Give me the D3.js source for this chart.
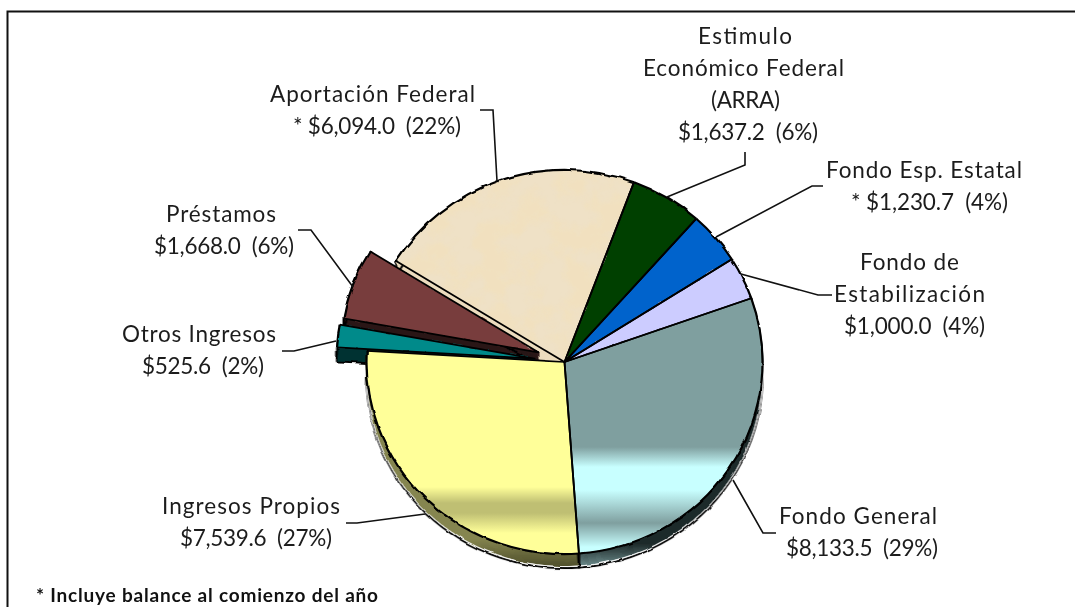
<!DOCTYPE html>
<html>
<head>
<meta charset="utf-8">
<script src="https://d3js.org/d3.v7.min.js"></script>
<style>
  html, body { margin: 0; padding: 0; background: #fff; overflow: hidden; }
  text { font-family: Lato, "Open Sans", sans-serif; fill: #1c1c1c; white-space: pre; }
</style>
</head>
<body>
<svg id="chart" width="1075" height="607"></svg>
<script>
// clockwise from the Fondo General slice
var categories = ['Fondo General', 'Ingresos Propios', 'Otros Ingresos', 'Préstamos',
  'Aportación Federal', 'Estimulo Económico Federal (ARRA)', 'Fondo Esp. Estatal', 'Fondo de Estabilización']
var values = [8133.5, 7539.6, 525.6, 1668.0, 6094.0, 1637.2, 1230.7, 1000.0]
var percents = [29, 27, 2, 6, 22, 6, 4, 4]
var starred = [false, false, false, false, true, false, true, false]
var nameLines = [
  ['Fondo General'],
  ['Ingresos Propios'],
  ['Otros Ingresos'],
  ['Préstamos'],
  ['Aportación Federal'],
  ['Estimulo', 'Económico Federal', '(ARRA)'],
  ['Fondo Esp. Estatal'],
  ['Fondo de', 'Estabilización']
]
var footnote = '* Incluye balance al comienzo del año'

const W = 1075
const H = 607
const cx = 564.5
const cy = 362
const radius = 198
const squash = 0.97
const depth = 14 / squash
const firstAngle = 70.6 * Math.PI / 180

// slice styling, same order as categories
const topFills = ['url(#gGeneral)', 'url(#gPropios)', '#008a8a', '#783c3c', '#efe1c6', '#003f00', '#0563cc', '#ccccff']
const wallFills = ['url(#wGeneral)', 'url(#wPropios)', '#033030', '#2a1414', '#ecdcbe', '#001f00', '#03316a', '#666680']
const explode = [0, 0, 30, 28, 0, 0, 0, 0]
// back to front
const drawOrder = [5, 6, 7, 4, 3, 2, 0, 1]
const gradientSlices = [0, 1]

// [left x, baseline, width] for each text line
const labelBoxes = [
  [[779, 524, 158], [786, 556, 152]],
  [[162, 514, 178], [180, 546, 152]],
  [[122, 342, 154], [142, 374, 122]],
  [[166, 222, 110], [154, 254, 140]],
  [[270, 102, 205], [293, 134, 168]],
  [[698, 44, 94], [643, 76, 201], [711, 108, 69], [678, 140, 140]],
  [[826, 178, 196], [851, 210, 157]],
  [[860, 270, 99], [834, 302, 151], [844, 334, 141]]
]
const leaders = [
  [[776, 533], [763, 533], [733, 480]],
  [[346, 523], [357, 523], [425, 514]],
  [[282, 351], [294, 351], [336, 341]],
  [[298, 230], [311, 230], [353, 287]],
  [[480, 110], [493, 110], [497, 181]],
  [[745, 152], [745, 165], [667, 197]],
  [[823, 186], [812, 186], [716, 237]],
  [[832, 295], [818, 295], [741, 274]]
]

var svg = d3.select('#chart')
var defs = svg.append('defs')

// gradients are given in page y, then mapped into the squashed pie space
var addGradient = function (id, stops) {
  var g = defs.append('linearGradient')
    .attr('id', id)
    .attr('gradientUnits', 'userSpaceOnUse')
    .attr('x1', 0).attr('x2', 0)
    .attr('y1', (0 - cy) / squash)
    .attr('y2', (H - cy) / squash)
  stops.forEach(s => {
    g.append('stop').attr('offset', s[0] / H).attr('stop-color', s[1])
  })
}
addGradient('gGeneral', [[447, '#7f9f9f'], [467, '#c8ffff'], [490, '#c8ffff'], [523, '#7f9f9f'], [547, '#c8ffff']])
addGradient('gPropios', [[487, '#ffff99'], [503, '#bfbf73'], [513, '#bfbf73'], [533, '#ffff99']])
// walls are stacked copies, so these stops sit one depth above the page position
addGradient('wGeneral', [[530, '#1f2c2c'], [553, '#6f8f8f']])
addGradient('wPropios', [[525, '#85854f'], [555, '#4a4a28']])

// filter regions live in the pie's local space, centred on the origin
var setRegion = function (f) {
  return f.attr('filterUnits', 'userSpaceOnUse')
    .attr('x', -cx).attr('y', -cy / squash)
    .attr('width', W).attr('height', H / squash)
}

// wobbly edge of the pie
var rough = setRegion(defs.append('filter').attr('id', 'rough'))
rough.append('feTurbulence')
  .attr('type', 'fractalNoise').attr('baseFrequency', 0.07).attr('numOctaves', 2).attr('seed', 4).attr('result', 'n')
rough.append('feDisplacementMap')
  .attr('in', 'SourceGraphic').attr('in2', 'n').attr('scale', 3.5)
  .attr('xChannelSelector', 'R').attr('yChannelSelector', 'G')

// parchment look of the Aportación slice
var paper = setRegion(defs.append('filter').attr('id', 'paper'))
paper.append('feTurbulence')
  .attr('type', 'fractalNoise').attr('baseFrequency', 0.035).attr('numOctaves', 4).attr('seed', 11).attr('result', 'n')
paper.append('feColorMatrix')
  .attr('in', 'n').attr('type', 'matrix')
  .attr('values', '0 0 0 0 0.88  0 0 0 0 0.75  0 0 0 0 0.52  4 0 0 0 -1.55')
  .attr('result', 'tint')
paper.append('feComposite').attr('in', 'tint').attr('in2', 'SourceAlpha').attr('operator', 'in').attr('result', 'spots')
var merge = paper.append('feMerge')
merge.append('feMergeNode').attr('in', 'SourceGraphic')
merge.append('feMergeNode').attr('in', 'spots')

// frame
svg.append('path')
  .attr('d', 'M7.5,' + H + 'V11.5H' + W)
  .attr('fill', 'none')
  .attr('stroke', '#111')
  .attr('stroke-width', 2)

var pie = d3.pie().sort(null).startAngle(firstAngle).endAngle(firstAngle + 2 * Math.PI)
var slices = pie(values)
var arc = d3.arc().innerRadius(0).outerRadius(radius)
var innerFace = d3.arc().innerRadius(0).outerRadius(radius - 0.5)
var outerEdge = d3.arc().innerRadius(radius).outerRadius(radius)

var shiftOf = function (i) {
  var mid = (slices[i].startAngle + slices[i].endAngle) / 2
  return d3.pointRadial(mid, explode[i])
}
var moved = function (i, dy) {
  var s = shiftOf(i)
  return 'translate(' + s[0] + ',' + (s[1] + (dy || 0)) + ')'
}

var plot = svg.append('g')
  .attr('transform', 'translate(' + cx + ',' + cy + ') scale(1,' + squash + ')')

// extruded side of each slice, stacked copies down to the base
var walls = plot.append('g').attr('filter', 'url(#rough)')
drawOrder.forEach(i => {
  var wall = walls.append('g')
  d3.range(1, Math.ceil(depth)).forEach(dy => {
    wall.append('path')
      .attr('d', arc(slices[i]))
      .attr('transform', moved(i, dy))
      .attr('fill', wallFills[i])
      .attr('stroke', wallFills[i])
      .attr('stroke-width', 1)
  })
  wall.append('path')
    .attr('d', arc(slices[i]))
    .attr('transform', moved(i, depth))
    .attr('fill', wallFills[i])
    .attr('stroke', '#000')
    .attr('stroke-width', 2)
  wall.append('path')
    .attr('d', outerEdge(slices[i]))
    .attr('transform', moved(i, depth - 1.5))
    .attr('fill', 'none')
    .attr('stroke', i < 2 ? '#fff' : 'none')
    .attr('stroke-width', 1)
  // upright edges at both ends of the arc
  ;[slices[i].startAngle, slices[i].endAngle].forEach(a => {
    var p = d3.pointRadial(a, radius)
    wall.append('line')
      .attr('transform', moved(i))
      .attr('x1', p[0]).attr('y1', p[1])
      .attr('x2', p[0]).attr('y2', p[1] + depth)
      .attr('stroke', '#000')
      .attr('stroke-width', 2)
  })
})

var drawRim = function (group, i) {
  group.append('path')
    .attr('d', outerEdge(slices[i]))
    .attr('transform', moved(i))
    .attr('fill', 'none')
    .attr('stroke', '#000')
    .attr('stroke-width', 2.2)
}

// flat top faces with the rough outer rim
var tops = plot.append('g').attr('filter', 'url(#rough)')
drawOrder.filter(i => !gradientSlices.includes(i)).forEach(i => {
  tops.append('path')
    .attr('d', arc(slices[i]))
    .attr('transform', moved(i))
    .attr('fill', topFills[i])
    .attr('filter', i === 4 ? 'url(#paper)' : null)
  drawRim(tops, i)
})

// banded faces stay out of the filter so their gradient is not torn
drawOrder.filter(i => gradientSlices.includes(i)).forEach(i => {
  plot.append('path')
    .attr('d', innerFace(slices[i]))
    .attr('transform', moved(i))
    .attr('fill', topFills[i])
})
var rims = plot.append('g').attr('filter', 'url(#rough)')
gradientSlices.forEach(i => drawRim(rims, i))

// straight radial edges stay crisp
var spokes = plot.append('g')
drawOrder.forEach(i => {
  var a = d3.pointRadial(slices[i].startAngle, radius)
  var b = d3.pointRadial(slices[i].endAngle, radius)
  spokes.append('path')
    .attr('d', 'M' + a + 'L0,0L' + b)
    .attr('transform', moved(i))
    .attr('fill', 'none')
    .attr('stroke', '#000')
    .attr('stroke-width', 1.8)
    .attr('stroke-linejoin', 'round')
})

// leader lines
svg.append('g').selectAll('path')
  .data(leaders)
  .join('path')
  .attr('d', d3.line())
  .attr('fill', 'none')
  .attr('stroke', '#111')
  .attr('stroke-width', 1.6)

// labels
var amountText = function (i) {
  return (starred[i] ? '* ' : '') + '$' + d3.format(',.1f')(values[i]) + '  (' + percents[i] + '%)'
}
categories.forEach((c, i) => {
  var lines = nameLines[i].concat([amountText(i)])
  lines.forEach((t, j) => {
    var box = labelBoxes[i][j]
    svg.append('text')
      .attr('x', box[0])
      .attr('y', box[1])
      .attr('textLength', box[2])
      .attr('lengthAdjust', 'spacing')
      .attr('font-size', 22.5)
      .text(t)
  })
})

svg.append('text')
  .attr('x', 36)
  .attr('y', 602)
  .attr('textLength', 342)
  .attr('lengthAdjust', 'spacing')
  .attr('font-size', 19)
  .attr('font-weight', 700)
  .style('fill', '#111')
  .text(footnote)
</script>
</body>
</html>
